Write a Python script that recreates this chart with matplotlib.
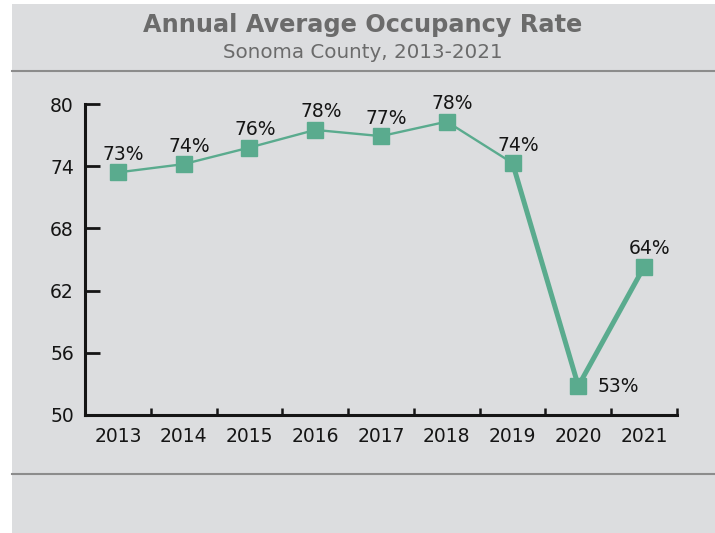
import numpy as np
import matplotlib.pyplot as plt
from matplotlib.patches import Rectangle
from matplotlib.lines import Line2D

# -- Daten --------------------------------------------------------------------
years = ["2013", "2014", "2015", "2016", "2017", "2018", "2019", "2020", "2021"]
occupancy = [73.4, 74.2, 75.8, 77.5, 76.9, 78.3, 74.3, 52.8, 64.3]
point_labels = ["73%", "74%", "76%", "78%", "77%", "78%", "74%", "53%", "64%"]
y_ticks = [50, 56, 62, 68, 74, 80]

title = "Annual Average Occupancy Rate"
subtitle = "Sonoma County, 2013-2021"

# -- Stil ---------------------------------------------------------------------
BG = "#dcdddf"
GREEN = "#5aab8e"
TITLE_GRAY = "#6b6b6b"
RULE_GRAY = "#8c8c8c"
INK = "#151515"

plt.rcParams["font.family"] = ["DejaVu Sans"]

fig = plt.figure(figsize=(7.15, 5.33), dpi=100, facecolor="white")

# grauer Hintergrund (links und oben ein schmaler weisser Rand)
fig.patches.append(Rectangle((12 / 715, 0), 1 - 12 / 715, 1 - 4 / 533,
                             transform=fig.transFigure, facecolor=BG,
                             edgecolor="none", zorder=-10))

# Trennlinien
for yl in (1 - 71 / 533, 1 - 474 / 533):
    fig.add_artist(Line2D([12 / 715, 1], [yl, yl], transform=fig.transFigure,
                          color=RULE_GRAY, lw=1.5))

fig.text(0.507, 1 - 32 / 533, title, ha="center", va="baseline",
         fontsize=17.3, fontweight="bold", color=TITLE_GRAY)
fig.text(0.507, 1 - 58 / 533, subtitle, ha="center", va="baseline",
         fontsize=14.3, color=TITLE_GRAY)

# -- Achsen -------------------------------------------------------------------
ax = fig.add_axes([85 / 715, 118 / 533, (677 - 85) / 715, (415 - 104) / 533])
ax.set_facecolor("none")

x = np.arange(len(years))

# duenne Linie bis 2019, dicke Linie fuer den Einbruch 2019-2021
ax.plot(x[:7], occupancy[:7], color=GREEN, lw=1.7, zorder=2)
ax.plot(x[6:], occupancy[6:], color=GREEN, lw=3.6, zorder=2)
ax.plot(x, occupancy, "s", ms=11.5, color=GREEN, zorder=3)

low = int(np.argmin(occupancy))
for i, (xv, yv, lab) in enumerate(zip(x, occupancy, point_labels)):
    if i == low:
        ax.annotate(lab, (xv, yv), xytext=(14, -4), textcoords="offset points",
                    ha="left", va="baseline", fontsize=13.5, color=INK)
    else:
        ax.annotate(lab, (xv, yv), xytext=(4, 9), textcoords="offset points",
                    ha="center", va="baseline", fontsize=13.5, color=INK)

ax.set_xlim(-0.5, len(years) - 0.5)
ax.set_ylim(50, 80)

for side in ("top", "right"):
    ax.spines[side].set_visible(False)
for side in ("left", "bottom"):
    ax.spines[side].set_linewidth(2.2)
    ax.spines[side].set_color(INK)
ax.spines["left"].set_capstyle("projecting")

ax.set_yticks(y_ticks)
ax.tick_params(axis="y", direction="in", length=11, width=2, colors=INK,
               labelsize=13.5, pad=8)

ax.set_xticks(x)
ax.set_xticklabels(years)
ax.set_xticks(np.arange(len(years) + 1) - 0.5, minor=True)
ax.tick_params(axis="x", which="major", length=0, labelsize=13.5,
               colors=INK, pad=9)
ax.tick_params(axis="x", which="minor", direction="in", length=5, width=1.8,
               color=INK)

fig.savefig("out.png", dpi=100, facecolor=fig.get_facecolor())
plt.close(fig)
